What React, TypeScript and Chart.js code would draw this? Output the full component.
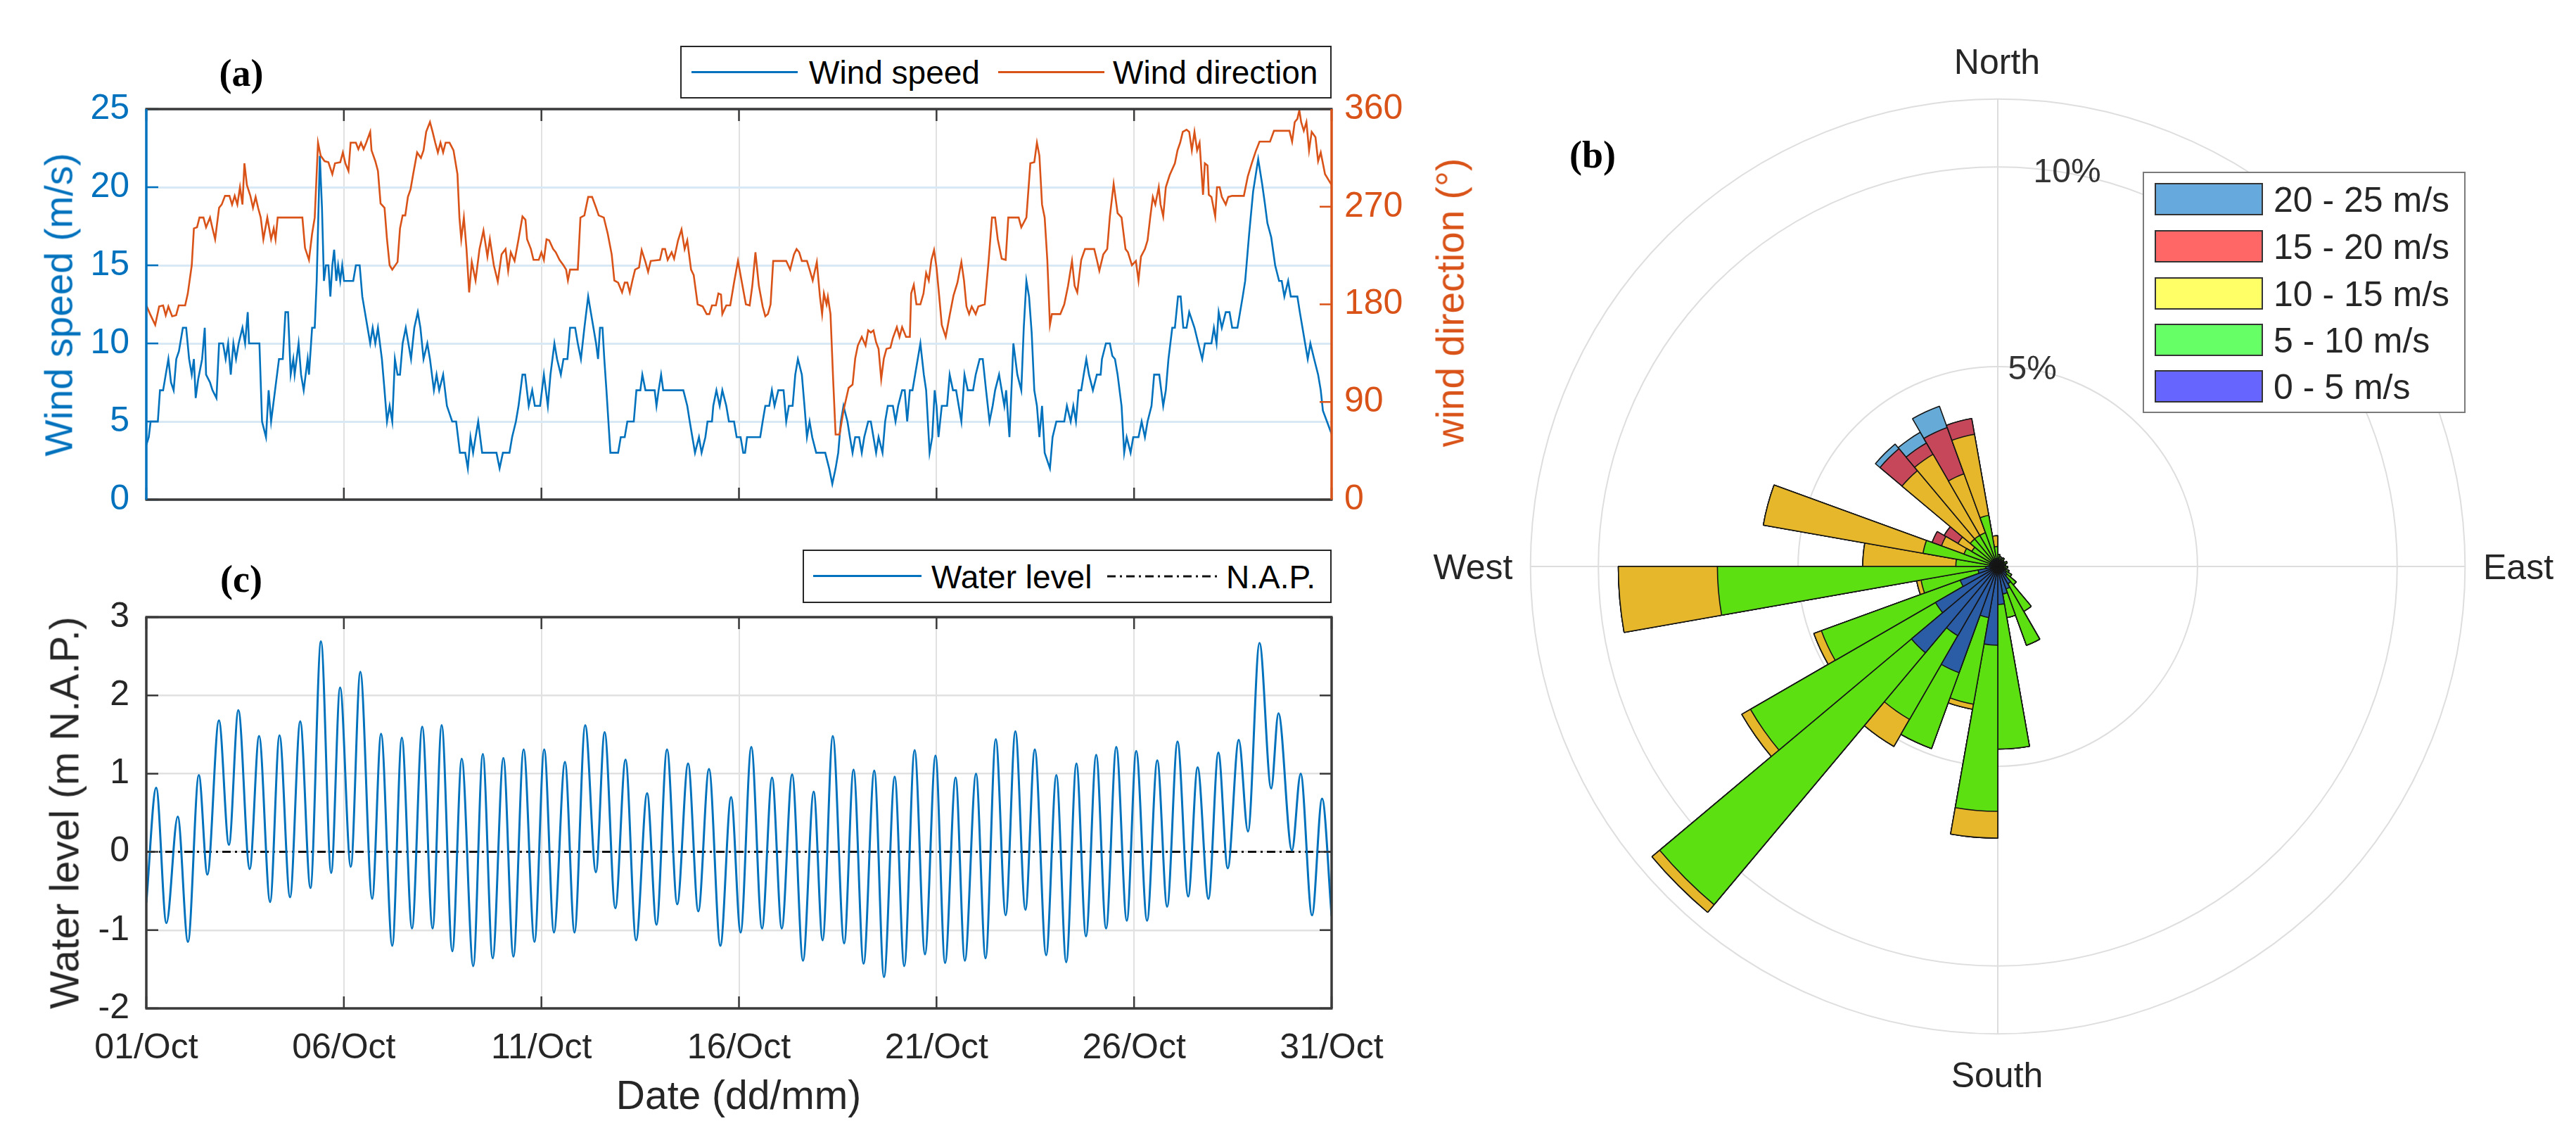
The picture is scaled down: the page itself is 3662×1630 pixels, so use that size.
import React, { useEffect, useRef } from 'react';
import { Chart, registerables } from 'chart.js';

Chart.register(...registerables);

// ---------------- time axis (hours since 01/Oct 00:00) ----------------
const dayTickHours = [0, 120, 240, 360, 480, 600, 720];
const dayTickLabels = ['01/Oct', '06/Oct', '11/Oct', '16/Oct', '21/Oct', '26/Oct', '31/Oct'];

// ---------------- panel (a): wind speed [hour, m/s] ----------------
const windSpeed: [number, number][] = [
  [0, 3.5], [1.5, 4], [2.6, 5], [7, 5], [8.3, 7], [10.2, 7], [11.8, 8], [13.4, 9], [15, 7.5], [16.6, 7], [18.2, 9], [19.8, 9.5],
  [22.2, 11], [24.2, 11], [26, 9], [27.6, 8], [28.9, 9], [30, 6.5], [31.5, 7.7], [33.9, 9], [35.5, 11], [36.3, 8], [38.7, 7.5],
  [40.2, 7], [42.6, 6.5], [44.2, 10], [46.6, 10], [48.2, 9], [49.7, 10], [51.3, 8], [52.9, 10], [54.5, 9], [56.1, 10], [58.4, 11],
  [60, 10], [61.6, 12], [62.4, 10], [68.7, 10], [70.3, 5], [72.7, 4], [74.3, 7], [75.8, 5], [78.2, 7], [80.6, 9], [82.9, 9],
  [84.5, 12], [86.1, 12], [87.7, 8], [89.3, 9], [90.1, 8], [92.5, 10], [94, 8], [95.6, 7], [98, 9], [98.8, 8], [100.7, 11],
  [102.3, 11], [103.5, 14], [105.4, 22], [106.7, 18.7], [107.9, 14], [109.1, 15], [110.6, 15], [111.8, 13], [113, 15], [114.1, 16],
  [115.4, 14], [116.5, 15], [117.8, 14], [119, 15], [120.1, 14], [125.7, 14], [127.3, 15], [129.6, 15], [131.2, 13], [132.8, 12],
  [134.4, 11], [136, 10], [137.5, 11], [139.1, 10], [140.7, 11], [143.1, 9], [144.7, 7], [146.2, 5], [147.8, 6], [149.4, 5],
  [151, 9], [152.6, 8], [154.1, 8], [155.7, 10], [157.6, 11], [159.2, 10], [160.8, 9], [162.8, 11], [164.9, 12], [166.5, 11],
  [168.4, 9], [170.7, 10], [172.3, 9], [174.7, 7], [176.3, 8], [177.9, 7], [180.3, 8], [182.6, 6], [185.8, 5], [188.2, 5],
  [190.5, 3], [193.7, 3], [195.3, 2], [196.9, 4], [198.5, 3], [200, 4], [201.6, 5], [204, 3], [212.7, 3], [214.6, 2], [216.6, 3],
  [220.6, 3], [222.2, 4], [224.5, 5], [226.1, 6], [228.5, 8], [230.1, 8], [232.3, 6], [234.4, 7], [236, 6], [239.2, 6],
  [241.5, 8], [243.9, 6], [245.5, 8], [247.9, 10], [249.5, 9], [251.8, 8], [253.4, 9], [255.8, 9], [257.4, 11], [260.5, 11],
  [262.1, 10], [264, 9], [266.1, 11], [268.4, 13], [270, 12], [271.6, 11], [273.2, 10], [274.4, 9], [275.6, 11], [277.1, 11],
  [278.2, 9], [279.5, 7], [281.9, 3], [286.6, 3], [288.2, 4], [290.6, 4], [292.2, 5], [296.1, 5], [297.7, 7], [300.1, 7],
  [301.3, 8], [303.2, 7], [308.8, 7], [309.9, 6], [311.2, 7], [312.7, 8], [314, 7], [326.2, 7], [328.6, 6], [330.1, 5],
  [331.7, 4], [333.3, 3], [335.7, 4], [337.3, 3], [339.6, 4], [340.9, 5], [343.6, 5], [344.4, 6], [346.3, 7], [348.3, 6],
  [349.9, 7], [352.3, 6], [353.9, 5], [357, 5], [358.6, 4], [361, 4], [362.6, 3], [363.7, 3], [364.9, 4], [372.9, 4],
  [374.4, 5], [376, 6], [378.4, 6], [380, 7], [381.6, 6], [383.9, 7], [387.1, 7], [388.7, 5], [390.3, 6], [392.6, 6],
  [394.2, 8], [395.8, 9], [398.2, 8], [399.8, 6], [401.3, 4], [402.9, 5], [404.5, 4], [406.9, 3], [412.4, 3], [414.8, 2],
  [416.7, 1], [418.7, 2], [420.3, 3], [421.9, 5], [423.5, 6], [425.9, 5], [427.4, 4], [429, 3], [430.6, 4], [433, 4],
  [434.6, 3], [436.1, 4], [438.5, 5], [440.1, 5], [441.7, 4], [443.3, 3], [444.8, 4], [447.2, 3], [448.8, 5], [450.4, 6],
  [453.5, 6], [455.1, 5], [456.7, 6], [459.1, 7], [460.7, 7], [462.2, 5], [463.8, 7], [465.4, 7], [467, 8], [470.2, 10],
  [472.3, 8], [473.7, 7], [475.8, 3], [477.4, 4], [478.9, 7], [480, 6], [481.2, 4], [483.2, 6], [486.4, 6], [488, 8],
  [490, 7], [491.9, 7], [493.5, 6], [495.1, 5], [497, 8], [499, 7], [502.2, 7], [503.8, 8], [506.2, 9], [508.1, 9],
  [510.1, 7], [512.2, 5], [514.1, 6], [515.6, 7], [518, 8], [519.6, 7], [521.2, 6], [522.3, 7], [524.3, 4], [526.7, 10],
  [529.1, 8], [531.5, 7], [533, 11], [534.6, 14], [536.2, 13], [537.8, 10.7], [539.4, 7], [541, 6], [542.5, 4], [544.1, 6],
  [545.7, 3], [548.9, 2], [550.5, 4], [552.8, 5], [557.6, 5], [559.2, 6], [561.5, 5], [563.1, 6], [564.7, 5], [566.3, 7],
  [567.9, 7], [569.4, 8], [571, 9], [572.6, 8], [575, 7], [577.4, 8], [579.7, 8], [580.5, 9], [582.9, 10], [585.3, 10],
  [586.8, 9.2], [588.4, 9], [590, 8], [592.4, 6], [594, 3], [595.5, 4], [597.9, 3], [599.5, 4], [602.7, 4], [604.6, 5],
  [606.6, 4], [608.2, 5], [610.6, 6], [612.2, 8], [615.3, 8], [617.7, 6], [619.3, 7], [620.9, 9], [623.2, 11], [624.8, 11],
  [626.7, 13], [628.3, 13], [629.9, 11], [631.9, 11], [633.5, 12], [635.1, 11.5], [636.7, 11], [639, 10], [641.4, 9],
  [643, 10], [647, 10], [648.5, 11], [650.1, 10], [651.4, 12], [653.3, 11], [655.7, 12], [658, 12], [659.6, 11], [662.8, 11],
  [664.4, 12], [666, 13], [667.5, 14], [669.9, 17], [672.3, 19.7], [675.4, 21.8], [677.8, 20.2], [679.4, 19], [681, 17.7],
  [683.3, 16.8], [685.7, 15], [688.1, 14], [689.7, 14], [691.3, 13], [693.6, 14], [695.2, 13], [699.2, 13], [700.7, 12],
  [702.3, 11], [703.9, 10], [705.5, 9], [707.1, 10], [709.4, 9], [711.8, 8], [713.4, 7], [714.7, 5.7], [720, 4.2],
];

// ---------------- panel (a): wind direction [hour, degrees] ----------------
const windDirection: [number, number][] = [
  [0, 179], [2.3, 171], [5.4, 161], [7.8, 178], [10.2, 179], [11.8, 170], [13.4, 178], [15.7, 169], [18.1, 170], [19.7, 179],
  [23.6, 179], [25.2, 190], [27.6, 216], [28.9, 250], [30.8, 251], [32.3, 260], [34.7, 260], [36.3, 251], [38.7, 260],
  [40.2, 250], [41.8, 240], [44.2, 269], [45.8, 272], [47.8, 280], [50.5, 280], [52.1, 272], [53.7, 280], [55.3, 272],
  [56.9, 288], [58.4, 272], [59.6, 310], [61.1, 290], [63.2, 280], [64.8, 269], [66.4, 279], [67.9, 269], [69.5, 260],
  [71.1, 240], [73.5, 260], [75.8, 240], [77.4, 250], [78.5, 240], [79.8, 260], [94.8, 260], [96.4, 232], [98.8, 221],
  [100.7, 245], [102.3, 260], [104.3, 329], [105.9, 317], [108.3, 312], [110.6, 311], [113, 300], [114.6, 310], [117.8, 311],
  [119.4, 320], [120.9, 310], [122.8, 303], [124.1, 329], [127.3, 329], [128.8, 323], [130.4, 329], [132, 323], [133.6, 329],
  [136, 339], [136.8, 322], [139.1, 312], [140.7, 303], [142.3, 273], [144.7, 269], [146.2, 240], [147.8, 216], [149.4, 212],
  [152.6, 219], [154.1, 250], [155.7, 262], [157.3, 262], [158.9, 279], [160.5, 286], [162.1, 300], [164.5, 320], [166.8, 315],
  [168.4, 322], [170, 339], [172.3, 348], [173.9, 339], [175.5, 329], [177.1, 320], [178.7, 329], [180.3, 320], [181.8, 329],
  [184.2, 329], [186.6, 322], [189, 300], [190.2, 260], [191.3, 240], [192.9, 260], [194.5, 231], [196.1, 191], [197.7, 219],
  [200, 202], [202.4, 231], [204.8, 248], [207.2, 224], [208.7, 240], [211.1, 216], [213.5, 201], [215.8, 226], [218.2, 231],
  [219.8, 211], [221.4, 228], [223.7, 220], [226.1, 240], [228.5, 261], [230.3, 258], [231.3, 240], [233.6, 231], [235.2, 221],
  [238.4, 221], [240, 228], [241.5, 221], [243.1, 240], [244.7, 239], [247.1, 231], [248.7, 228], [251, 221], [253.4, 216],
  [255, 212], [256.1, 202], [257.4, 212], [262.1, 212], [263.7, 260], [266.1, 262], [268.4, 279], [270.8, 279], [273.2, 269],
  [274.8, 262], [277.9, 260], [280.3, 245], [282.7, 226], [284.3, 202], [286.6, 200], [289, 191], [290.6, 200], [292.2, 200],
  [293.7, 191], [295.3, 202], [296.9, 212], [299.3, 214], [300.9, 230], [303.2, 219], [304.8, 210], [306.4, 220], [312, 221],
  [313.5, 231], [315.1, 231], [316.7, 221], [319.1, 228], [320.6, 222], [323, 239], [325.1, 249], [327, 231], [328.6, 239],
  [330.9, 212], [332.5, 207], [334.9, 180], [338, 178], [340.4, 171], [342, 171], [343.6, 179], [346, 179], [347.5, 190],
  [349.1, 189], [349.9, 171], [352.3, 179], [354.7, 179], [357, 200], [359.4, 220], [361.8, 200], [364.2, 180], [366.5, 179],
  [368.1, 197], [370, 228], [372.1, 197], [374.4, 178], [376, 169], [377.6, 171], [379.2, 180], [380.8, 220], [388.7, 220],
  [391.1, 212], [393.4, 226], [395, 231], [396.6, 228], [398.2, 220], [401.3, 220], [402.9, 212], [404.8, 202], [407.3, 219],
  [409.2, 187], [410.5, 171], [411.6, 190], [413.2, 180], [414, 187], [415.6, 171], [417.2, 111], [418.7, 60], [421.1, 60],
  [423.5, 82], [426.6, 103], [429, 106], [430.6, 130], [432.2, 142], [434.6, 150], [436.9, 142], [438.5, 156], [440.1, 154],
  [441.7, 156], [443.3, 145], [444.8, 139], [446.4, 111], [448, 130], [449.6, 139], [452, 140], [453.5, 149], [455.9, 159],
  [457.5, 150], [459.1, 159], [461.5, 150], [463.8, 150], [464.6, 190], [466.2, 198], [467.8, 180], [470.2, 180], [472.1, 190],
  [473.7, 209], [475.3, 202], [476.9, 221], [478.5, 230], [480, 214], [481.6, 188], [483.2, 161], [485.6, 150], [488, 170],
  [490.3, 188], [492.7, 200], [495.1, 219], [496.7, 202], [498.2, 178], [499.8, 171], [501.4, 178], [503.8, 171], [505.4, 178],
  [509.3, 180], [511.7, 221], [513.7, 260], [515.6, 260], [517.2, 240], [519.6, 222], [522, 221], [523.6, 260], [529.9, 260],
  [531.5, 251], [534.6, 260], [537, 310], [539.4, 311], [541, 329], [542.5, 317], [544.1, 272], [545.7, 260], [547.3, 221],
  [548.9, 161], [550.1, 171], [555.2, 171], [557.6, 180], [559.9, 197], [562.3, 220], [563.9, 197], [565.5, 191], [567.9, 221],
  [570.2, 231], [575.8, 231], [577.4, 221], [578.9, 211], [581.3, 226], [583.7, 231], [585.3, 261], [587.6, 291], [590, 264],
  [592.4, 260], [594.8, 231], [596.3, 228], [598.7, 216], [601.1, 220], [602.7, 202], [604.2, 224], [606.6, 231], [608.2, 239],
  [609.8, 260], [611.4, 279], [612.9, 272], [615, 288], [616.1, 272], [617.7, 261], [619.3, 288], [621.6, 299], [624.8, 310],
  [626.4, 322], [628, 329], [629.6, 339], [631.9, 341], [633.5, 339], [635.1, 322], [636.7, 339], [638.3, 322], [639.8, 329],
  [641.9, 281], [643, 310], [644.6, 308], [645.4, 281], [647, 279], [649.3, 261], [650.4, 288], [652, 288], [653.3, 279],
  [655.7, 272], [657.2, 279], [659.6, 280], [666.7, 280], [669.1, 298], [671.5, 310], [673.9, 321], [676.2, 330], [682.6, 330],
  [685, 340], [694.4, 340], [696, 330], [697.6, 348], [699.2, 351], [700.4, 359], [701.5, 348], [703.1, 340], [704.7, 348],
  [706.3, 322], [707.9, 339], [710.2, 334], [711.8, 312], [713.4, 320], [716, 300], [720, 290],
];

// ---------------- panel (c): water level turning points [hour, m N.A.P.] ----------------
const waterLevel: [number, number][] = [
  [0, -0.65], [6, 0.82], [12.2, -0.91], [19.1, 0.45], [25.3, -1.15], [31.9, 0.98], [37.1, -0.29], [44.1, 1.68], [50.2, 0.09],
  [55.9, 1.81], [62.8, -0.22], [68.5, 1.48], [75.2, -0.64], [80.9, 1.49], [87.3, -0.58], [93.5, 1.67], [99.7, -0.46],
  [106.1, 2.69], [112.3, -0.27], [117.7, 2.1], [124.2, -0.19], [130, 2.3], [137.2, -0.6], [142.6, 1.51], [149.4, -1.2],
  [155.2, 1.46], [161.4, -0.98], [167.6, 1.6], [173.9, -0.98], [179.4, 1.62], [185.9, -1.27], [191.6, 1.19], [198.6, -1.46],
  [204.4, 1.25], [210.4, -1.36], [216.9, 1.2], [223, -1.34], [229.2, 1.31], [235.8, -1.15], [241.7, 1.31], [247.6, -1.03],
  [254.3, 1.15], [260.1, -1.03], [266.6, 1.62], [273.1, -0.26], [278.4, 1.53], [284.9, -0.72], [291.1, 1.18], [297.5, -1.13],
  [304.2, 0.75], [309.9, -0.93], [316.3, 1.31], [322.5, -0.67], [329.1, 1.13], [335.3, -0.76], [341.8, 1.06], [348.7, -1.2],
  [355.2, 0.7], [361, -1.03], [367.5, 1.34], [374, -0.98], [380.1, 0.95], [386, -0.98], [392.3, 0.99], [398.9, -1.39],
  [405.4, 0.77], [410.8, -1.13], [417, 1.48], [423.9, -1.17], [429.6, 1.05], [435.7, -1.43], [442.2, 1.04], [448.1, -1.6],
  [454.6, 0.96], [460.4, -1.46], [466.7, 1.3], [473, -1.31], [479.4, 1.23], [485.2, -1.42], [491.6, 0.95], [497.2, -1.39],
  [504, 1], [509.8, -1.36], [516, 1.44], [522, -0.81], [527.9, 1.54], [534, -0.74], [539.7, 1.31], [546.6, -1.32],
  [552.8, 0.98], [558.8, -1.41], [565, 1.13], [570.8, -1.08], [577, 1.24], [583, -0.98], [589.2, 1.34], [595.6, -0.88],
  [601.3, 1.29], [607.9, -0.88], [614.1, 1.17], [620.1, -0.7], [626.4, 1.41], [632.9, -0.57], [638.6, 1.08], [645.2, -0.6],
  [651.2, 1.27], [656.9, -0.21], [663.6, 1.43], [669.2, 0.26], [676.2, 2.67], [683.3, 0.81], [687.7, 1.77], [695.9, 0.02],
  [701.2, 1], [708.1, -0.81], [714.2, 0.68], [720, -0.82],
];
const napLevel: [number, number][] = [[0, 0], [720, 0]];

// ---------------- panel (b): wind rose, % of time per 10° sector ----------------
const sectorStart = [0, 10, 20, 30, 40, 50, 60, 70, 80, 90, 100, 110, 120, 130, 140, 150, 160, 170,
  180, 190, 200, 210, 220, 230, 240, 250, 260, 270, 280, 290, 300, 310, 320, 330, 340, 350];
const speedClasses = ['0 - 5 m/s', '5 - 10 m/s', '10 - 15 m/s', '15 - 20 m/s', '20 - 25 m/s'];
const freq0to5 = [0.15, 0.15, 0.15, 0.15, 0.15, 0.1, 0.15, 0.15, 0.1, 0.15, 0.15, 0.2, 0.25, 0.3, 0.5, 0.6, 0.7, 0.95,
  1.97, 1.3, 2.83, 2.0, 2.82, 1.8, 1.0, 0.5, 0.3, 0.2, 0.2, 0.2, 0.2, 0.2, 0.2, 0.2, 0.2, 0.2];
const freq5to10 = [0.15, 0.1, 0.05, 0.1, 0.05, 0.05, 0.1, 0.05, 0.1, 0.1, 0.05, 0.1, 0.15, 0.3, 0.8, 1.5, 0.6, 3.62,
  4.16, 2.2, 2.02, 2.42, 8.23, 5.35, 3.7, 1.45, 6.72, 0.85, 1.7, 0.7, 0.55, 0.7, 0.7, 0.7, 1.1, 0.3];
const freq10to15 = [0, 0, 0, 0, 0, 0, 0, 0, 0, 0, 0, 0, 0, 0, 0, 0, 0, 0,
  0.67, 0.13, 0, 0.78, 0.25, 0.25, 0.2, 0.11, 2.48, 2.33, 4.06, 0.6, 0.4, 2.23, 2.34, 1.57, 2.06, 0.27];
const freq15to20 = [0, 0, 0, 0, 0, 0, 0, 0, 0, 0, 0, 0, 0, 0, 0, 0, 0, 0,
  0, 0, 0, 0, 0, 0, 0, 0, 0, 0, 0, 0.25, 0.4, 0.72, 0.33, 1.23, 0.4, 0];
const freq20to25 = [0, 0, 0, 0, 0, 0, 0, 0, 0, 0, 0, 0, 0, 0, 0, 0, 0, 0,
  0, 0, 0, 0, 0, 0, 0, 0, 0, 0, 0, 0, 0, 0.15, 0.31, 0.57, 0, 0];
const roseRings = [0, 5, 10, 11.7];
const roseRingLabels = [5, 10];

// ---------------- styling ----------------
const SANS = "'Liberation Sans', Arial, Helvetica, sans-serif";
const SERIF = "'Liberation Serif', 'Times New Roman', serif";
const BLUE = '#0072BD';
const ORANGE = '#D95319';
const AXIS = '#262626';
const roseFill = ['#2b5ca6', '#5ce012', '#e6b72a', '#c6465a', '#66abd8'];
const roseLegendFill = ['#6666ff', '#66ff66', '#ffff66', '#ff6666', '#66aadd'];

const toXY = (arr: [number, number][]) => arr.map(([x, y]) => ({ x, y }));

const framePlugin = {
  id: 'matlabFrame',
  afterDatasetsDraw(chart: any, _args: any, opts: any) {
    const { ctx, chartArea: a, scales } = chart;
    const L = opts.tickLength;
    ctx.save();
    ctx.lineCap = 'butt';
    ctx.lineWidth = opts.tickWidth;
    const xs = scales.x;
    ctx.strokeStyle = opts.boxColor;
    ctx.beginPath();
    xs.ticks.forEach((t: any) => {
      const px = xs.getPixelForValue(t.value);
      ctx.moveTo(px, a.bottom); ctx.lineTo(px, a.bottom - L);
      ctx.moveTo(px, a.top); ctx.lineTo(px, a.top + L);
    });
    ctx.stroke();
    const yl = scales[opts.leftScale];
    ctx.strokeStyle = opts.leftColor;
    ctx.beginPath();
    yl.ticks.forEach((t: any) => {
      const py = yl.getPixelForValue(t.value);
      ctx.moveTo(a.left, py); ctx.lineTo(a.left + L, py);
    });
    ctx.stroke();
    const yr = scales[opts.rightScale];
    ctx.strokeStyle = opts.rightColor;
    ctx.beginPath();
    yr.ticks.forEach((t: any) => {
      const py = yr.getPixelForValue(t.value);
      ctx.moveTo(a.right, py); ctx.lineTo(a.right - L, py);
    });
    ctx.stroke();
    ctx.lineWidth = opts.borderWidth;
    const seg = (x1: number, y1: number, x2: number, y2: number, c: string) => {
      ctx.strokeStyle = c; ctx.beginPath(); ctx.moveTo(x1, y1); ctx.lineTo(x2, y2); ctx.stroke();
    };
    seg(a.left - 1.5, a.top, a.right + 1.5, a.top, opts.boxColor);
    seg(a.left - 1.5, a.bottom, a.right + 1.5, a.bottom, opts.boxColor);
    seg(a.left, a.top, a.left, a.bottom, opts.leftColor);
    seg(a.right, a.top, a.right, a.bottom, opts.rightColor);
    ctx.restore();
  },
};

const rosePlugin = {
  id: 'roseDecor',
  beforeDatasetsDraw(chart: any, _args: any, opts: any) {
    const r = chart.scales.r;
    const ctx = chart.ctx;
    const R = r.getDistanceFromCenterForValue(opts.outer);
    ctx.save();
    ctx.strokeStyle = opts.lineColor;
    ctx.lineWidth = opts.lineWidth;
    ctx.beginPath();
    ctx.moveTo(r.xCenter - R, r.yCenter); ctx.lineTo(r.xCenter + R, r.yCenter);
    ctx.moveTo(r.xCenter, r.yCenter - R); ctx.lineTo(r.xCenter, r.yCenter + R);
    ctx.stroke();
    ctx.restore();
  },
  afterDatasetsDraw(chart: any, _args: any, opts: any) {
    const r = chart.scales.r;
    const ctx = chart.ctx;
    ctx.save();
    ctx.fillStyle = opts.textColor;
    ctx.font = opts.font;
    ctx.textAlign = 'center';
    ctx.textBaseline = 'middle';
    const ang = (opts.labelBearing * Math.PI) / 180;
    opts.labels.forEach((v: number) => {
      const d = r.getDistanceFromCenterForValue(v);
      ctx.fillText(`${v}%`, r.xCenter + d * Math.sin(ang), r.yCenter - d * Math.cos(ang));
    });
    ctx.restore();
  },
};

const xScale = (showLabels: boolean, gridColor: string) => ({
  type: 'linear',
  min: 0,
  max: 720,
  afterBuildTicks: (s: any) => { s.ticks = dayTickHours.map((v) => ({ value: v })); },
  afterFit: (s: any) => { s.height = showLabels ? 100 : 10; },
  border: { display: false },
  grid: { color: gridColor, lineWidth: 2, drawTicks: false },
  ticks: {
    display: showLabels,
    padding: 27,
    maxRotation: 0,
    autoSkip: false,
    color: AXIS,
    font: { family: SANS, size: 50 },
    callback: (_v: any, i: number) => dayTickLabels[i],
  },
});

export default function App() {
  const aRef = useRef<HTMLCanvasElement>(null);
  const bRef = useRef<HTMLCanvasElement>(null);
  const cRef = useRef<HTMLCanvasElement>(null);

  useEffect(() => {
    const charts: Chart[] = [];

    charts.push(new Chart(aRef.current as HTMLCanvasElement, {
      type: 'line',
      data: {
        datasets: [
          { label: 'Wind direction', data: toXY(windDirection), yAxisID: 'y2', borderColor: ORANGE, borderWidth: 2.6, pointRadius: 0, tension: 0 },
          { label: 'Wind speed', data: toXY(windSpeed), yAxisID: 'y', borderColor: BLUE, borderWidth: 2.6, pointRadius: 0, tension: 0 },
        ],
      } as any,
      options: {
        responsive: false,
        animation: false,
        devicePixelRatio: 1,
        events: [],
        layout: { padding: { top: 155, bottom: 80, left: 0, right: 0 } },
        plugins: {
          legend: { display: false },
          tooltip: { enabled: false },
          matlabFrame: { tickLength: 17, tickWidth: 2.5, borderWidth: 3.5, boxColor: '#3a3a3a', leftColor: BLUE, rightColor: ORANGE, leftScale: 'y', rightScale: 'y2' },
        } as any,
        scales: {
          x: xScale(false, '#e1e1e1') as any,
          y: {
            position: 'left', min: 0, max: 25,
            afterFit: (s: any) => { s.width = 208; },
            border: { display: false },
            grid: { color: '#d8e8f4', lineWidth: 3, drawTicks: false },
            ticks: { stepSize: 5, padding: 24, color: BLUE, font: { family: SANS, size: 50 } },
          },
          y2: {
            position: 'right', min: 0, max: 360,
            afterFit: (s: any) => { s.width = 227; },
            border: { display: false },
            grid: { display: false, drawTicks: false },
            ticks: { stepSize: 90, padding: 18, color: ORANGE, font: { family: SANS, size: 50 } },
          },
        } as any,
      },
      plugins: [framePlugin as any],
    }));

    charts.push(new Chart(cRef.current as HTMLCanvasElement, {
      type: 'line',
      data: {
        datasets: [
          { label: 'Water level', data: toXY(waterLevel), borderColor: BLUE, borderWidth: 3, pointRadius: 0, cubicInterpolationMode: 'monotone' },
          { label: 'N.A.P.', data: toXY(napLevel), borderColor: '#111111', borderWidth: 3, borderDash: [12, 6, 3, 6], pointRadius: 0 },
        ],
      } as any,
      options: {
        responsive: false,
        animation: false,
        devicePixelRatio: 1,
        events: [],
        layout: { padding: { top: 97, bottom: 0, left: 0, right: 227 } },
        plugins: {
          legend: { display: false },
          tooltip: { enabled: false },
          matlabFrame: { tickLength: 17, tickWidth: 2.5, borderWidth: 3.5, boxColor: '#3a3a3a', leftColor: '#3a3a3a', rightColor: '#3a3a3a', leftScale: 'y', rightScale: 'y' },
        } as any,
        scales: {
          x: xScale(true, '#e1e1e1') as any,
          y: {
            position: 'left', min: -2, max: 3,
            afterFit: (s: any) => { s.width = 208; },
            border: { display: false },
            grid: { color: '#e1e1e1', lineWidth: 2.5, drawTicks: false },
            ticks: { stepSize: 1, padding: 24, color: AXIS, font: { family: SANS, size: 50 } },
          },
        } as any,
      },
      plugins: [framePlugin as any],
    }));

    const classes = [freq0to5, freq5to10, freq10to15, freq15to20, freq20to25];
    const cumulative = classes.map((_, k) =>
      sectorStart.map((_, i) => classes.slice(0, k + 1).reduce((s, arr) => s + arr[i], 0)));

    charts.push(new Chart(bRef.current as HTMLCanvasElement, {
      type: 'polarArea',
      data: {
        labels: sectorStart.map((d) => `${d}°`),
        datasets: cumulative.map((vals, k) => ({
          label: speedClasses[k],
          data: vals,
          backgroundColor: roseFill[k],
          borderColor: '#151515',
          borderWidth: 1.6,
        })),
      },
      options: {
        responsive: false,
        animation: false,
        devicePixelRatio: 1,
        events: [],
        layout: { padding: 0 },
        plugins: {
          legend: { display: false },
          tooltip: { enabled: false },
          roseDecor: { outer: 11.7, lineColor: '#dddddd', lineWidth: 2, textColor: '#333333', font: `48px ${SANS}`, labels: roseRingLabels, labelBearing: 10 },
        } as any,
        scales: {
          r: {
            min: 0, max: 11.8, startAngle: 0,
            afterBuildTicks: (s: any) => { s.ticks = roseRings.map((v) => ({ value: v })); },
            ticks: { display: false },
            grid: { color: '#dedede', lineWidth: 2, circular: true },
            angleLines: { display: false },
            pointLabels: { display: false },
          },
        } as any,
      },
      plugins: [rosePlugin as any],
    }));

    return () => charts.forEach((c) => c.destroy());
  }, []);

  const abs = (l: number, t: number): React.CSSProperties => ({ position: 'absolute', left: l, top: t });
  const centered = (cx: number, cy: number, extra: React.CSSProperties = {}): React.CSSProperties => ({
    position: 'absolute', left: cx, top: cy, transform: 'translate(-50%, -50%)', whiteSpace: 'nowrap', lineHeight: 1, ...extra,
  });
  const vcenter = (l: number, cy: number, extra: React.CSSProperties = {}): React.CSSProperties => ({
    position: 'absolute', left: l, top: cy, transform: 'translateY(-50%)', whiteSpace: 'nowrap', lineHeight: 1, ...extra,
  });
  const rotated = (cx: number, cy: number, extra: React.CSSProperties = {}): React.CSSProperties => ({
    position: 'absolute', left: cx, top: cy, transform: 'translate(-50%, -50%) rotate(-90deg)', whiteSpace: 'nowrap', lineHeight: 1, ...extra,
  });

  const roseLegendRows = [4, 3, 2, 1, 0];
  const roseLegendY = [283, 350, 417, 483, 549];

  return (
    <div style={{ position: 'fixed', left: 0, top: 0, width: 3662, height: 1630, background: '#ffffff', overflow: 'hidden', fontFamily: SANS, color: AXIS }}>
      <canvas ref={aRef} width={2120} height={800} style={{ ...abs(0, 0), width: 2120, height: 800 }} />
      <canvas ref={cRef} width={2120} height={753} style={{ ...abs(0, 780), width: 2120, height: 753 }} />
      <canvas ref={bRef} width={1340} height={1340} style={{ ...abs(2170, 135), width: 1340, height: 1340 }} />

      {/* panel labels */}
      <div style={centered(343, 104, { fontFamily: SERIF, fontWeight: 'bold', fontSize: 54, color: '#000' })}>(a)</div>
      <div style={centered(2264, 220, { fontFamily: SERIF, fontWeight: 'bold', fontSize: 54, color: '#000' })}>(b)</div>
      <div style={centered(343, 823, { fontFamily: SERIF, fontWeight: 'bold', fontSize: 54, color: '#000' })}>(c)</div>

      {/* axis titles */}
      <div style={rotated(84, 433, { fontSize: 55, color: BLUE })}>Wind speed (m/s)</div>
      <div style={rotated(2062, 430, { fontSize: 55, color: ORANGE })}>wind direction (°)</div>
      <div style={rotated(92, 1155, { fontSize: 57, color: AXIS })}>Water level (m N.A.P.)</div>
      <div style={centered(1050, 1556, { fontSize: 57, color: AXIS })}>Date (dd/mm)</div>

      {/* legend (a) */}
      <div style={{ ...abs(967, 65), width: 926, height: 75, border: '2.5px solid #262626', boxSizing: 'border-box', background: '#fff' }} />
      <div style={{ ...abs(983, 101), width: 151, height: 0, borderTop: `3px solid ${BLUE}` }} />
      <div style={vcenter(1150, 103, { fontSize: 46, color: '#000' })}>Wind speed</div>
      <div style={{ ...abs(1419, 101), width: 151, height: 0, borderTop: `3px solid ${ORANGE}` }} />
      <div style={vcenter(1582, 103, { fontSize: 46, color: '#000' })}>Wind direction</div>

      {/* legend (c) */}
      <div style={{ ...abs(1141, 781), width: 752, height: 76, border: '2.5px solid #262626', boxSizing: 'border-box', background: '#fff' }} />
      <div style={{ ...abs(1156, 817), width: 154, height: 0, borderTop: `3px solid ${BLUE}` }} />
      <div style={vcenter(1324, 820, { fontSize: 46, color: '#000' })}>Water level</div>
      <svg style={{ ...abs(1574, 812), overflow: 'visible' }} width={158} height={14}>
        <line x1={0} y1={7} x2={158} y2={7} stroke="#111" strokeWidth={3} strokeDasharray="12 6 3 6" />
      </svg>
      <div style={vcenter(1743, 820, { fontSize: 46, color: '#000' })}>N.A.P.</div>

      {/* compass labels (b) */}
      <div style={centered(2839, 88, { fontSize: 50, color: '#262626' })}>North</div>
      <div style={centered(2839, 1528, { fontSize: 50, color: '#262626' })}>South</div>
      <div style={centered(2094, 806, { fontSize: 50, color: '#262626' })}>West</div>
      <div style={centered(3580, 806, { fontSize: 50, color: '#262626' })}>East</div>

      {/* legend (b) */}
      <div style={{ ...abs(3046, 244), width: 459, height: 343, border: '2px solid #7a7a7a', boxSizing: 'border-box', background: '#fff' }} />
      {roseLegendRows.map((k, j) => (
        <React.Fragment key={k}>
          <div style={{ ...abs(3063, roseLegendY[j] - 23), width: 154, height: 46, background: roseLegendFill[k], border: '2px solid #333', boxSizing: 'border-box' }} />
          <div style={vcenter(3232, roseLegendY[j] + 1, { fontSize: 50, color: '#262626' })}>{speedClasses[k]}</div>
        </React.Fragment>
      ))}
    </div>
  );
}
